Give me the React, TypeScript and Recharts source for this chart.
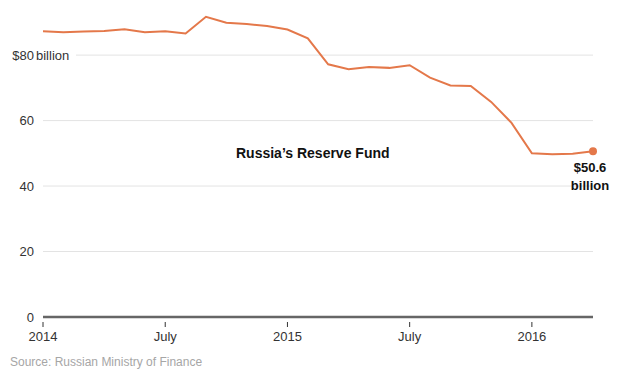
import { LineChart, Line, XAxis, YAxis, CartesianGrid } from 'recharts'

// monthly balance, Jan 2014 .. Apr 2016 (billions of dollars)
const months = [
  'Jan 2014', 'Feb 2014', 'Mar 2014', 'Apr 2014', 'May 2014', 'Jun 2014',
  'Jul 2014', 'Aug 2014', 'Sep 2014', 'Oct 2014', 'Nov 2014', 'Dec 2014',
  'Jan 2015', 'Feb 2015', 'Mar 2015', 'Apr 2015', 'May 2015', 'Jun 2015',
  'Jul 2015', 'Aug 2015', 'Sep 2015', 'Oct 2015', 'Nov 2015', 'Dec 2015',
  'Jan 2016', 'Feb 2016', 'Mar 2016', 'Apr 2016',
]
const fund = [
  87.3, 87.0, 87.2, 87.4, 87.9, 87.0, 87.3, 86.6, 91.7, 89.9, 89.5, 88.9,
  87.8, 85.1, 77.2, 75.7, 76.4, 76.1, 76.9, 73.1, 70.7, 70.6, 65.7, 59.3,
  50.0, 49.7, 49.9, 50.6,
]
const xTicks = [0, 6, 12, 18, 24]
const xTickLabels = ['2014', 'July', '2015', 'July', '2016']
const yTicks = [0, 20, 40, 60, 80]

const data = months.map((m, i) => ({ idx: i, month: m, value: fund[i] }))

const ORANGE = '#e4784a'
const FONT = '"Liberation Sans", Arial, sans-serif'

const YTick = (props: any) => {
  const { y, payload } = props
  const top = payload.value === yTicks[yTicks.length - 1]
  return (
    <g>
      {top && <rect x={35} y={y - 6} width={41} height={12} fill="#fff" />}
      <text x={34} y={y} dy={4.5} textAnchor="end" fontSize={13} fill="#333" fontFamily={FONT}>
        {top ? `$${payload.value}` : payload.value}
      </text>
      {top && (
        <text x={36} y={y} dy={4.5} textAnchor="start" fontSize={13} fill="#333" fontFamily={FONT}>
          billion
        </text>
      )}
    </g>
  )
}

const XTick = (props: any) => {
  const { x, y, payload } = props
  const i = xTicks.indexOf(payload.value)
  return (
    <g>
      <line x1={x} x2={x} y1={y + 5} y2={y + 10} stroke="#333" strokeWidth={1} />
      <text x={x} y={y + 24} textAnchor="middle" fontSize={13} fill="#333" fontFamily={FONT}>
        {xTickLabels[i]}
      </text>
    </g>
  )
}

const EndDot = (props: any) => {
  const { cx, cy, index, payload } = props
  if (index !== data.length - 1) return <g key={index} />
  return (
    <g key={index}>
      <circle cx={cx} cy={cy} r={4} fill={ORANGE} />
      <text x={cx - 3} y={cy + 21} textAnchor="middle" fontSize={13} fontWeight="bold" fill="#111" fontFamily={FONT}>
        ${payload.value}
      </text>
      <text x={cx - 3} y={cy + 39} textAnchor="middle" fontSize={13} fontWeight="bold" fill="#111" fontFamily={FONT}>
        billion
      </text>
    </g>
  )
}

export default function App() {
  return (
    <div style={{ position: 'absolute', left: 0, top: 0, width: 627, height: 379, background: '#fff' }}>
      <LineChart
        width={627}
        height={379}
        data={data}
        margin={{ top: 6, right: 34, bottom: 32, left: 0 }}
      >
        <CartesianGrid vertical={false} stroke="#e3e3e3" strokeWidth={1} syncWithTicks />
        <XAxis
          dataKey="idx"
          type="number"
          domain={[0, 27]}
          ticks={xTicks}
          tick={<XTick />}
          tickSize={0}
          tickMargin={0}
          tickLine={false}
          axisLine={{ stroke: '#666', strokeWidth: 2.5 }}
          height={30}
          interval={0}
        />
        <YAxis
          type="number"
          domain={[0, 95]}
          ticks={yTicks}
          tick={<YTick />}
          axisLine={false}
          tickLine={false}
          width={43}
          interval={0}
        />
        <Line
          type="linear"
          dataKey="value"
          stroke={ORANGE}
          strokeWidth={2}
          dot={<EndDot />}
          activeDot={false}
          isAnimationActive={false}
        />
      </LineChart>
      <div
        style={{
          position: 'absolute',
          left: 236,
          top: 145,
          fontFamily: FONT,
          fontWeight: 'bold',
          fontSize: 14,
          color: '#111',
          whiteSpace: 'nowrap',
        }}
      >
        Russia’s Reserve Fund
      </div>
      <div
        style={{
          position: 'absolute',
          left: 10,
          top: 355,
          fontFamily: FONT,
          fontSize: 12,
          color: '#a6a6a6',
          whiteSpace: 'nowrap',
        }}
      >
        Source: Russian Ministry of Finance
      </div>
    </div>
  )
}
